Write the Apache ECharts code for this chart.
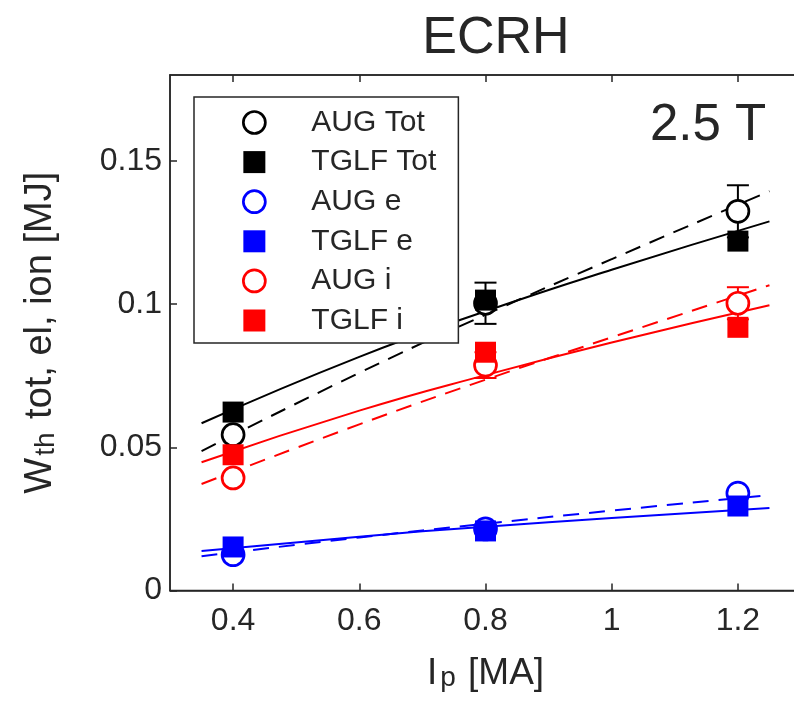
<!DOCTYPE html>
<html>
<head>
<meta charset="utf-8">
<script src="https://cdn.jsdelivr.net/npm/echarts@6/dist/echarts.min.js"></script>
<style>html,body{margin:0;padding:0;background:#fff}#c{width:794px;height:705px}</style>
</head>
<body>
<div id="c"></div>
<script>
// ---- data ----
const ipValues = [0.4, 0.8, 1.2];
const augTot  = [0.0544, 0.1003, 0.1324];
const tglfTot = [0.0623, 0.1014, 0.1220];
const augE    = [0.0125, 0.0215, 0.0340];
const tglfE   = [0.0152, 0.0208, 0.0295];
const augI    = [0.0393, 0.0787, 0.1003];
const tglfI   = [0.0474, 0.0832, 0.0919];
const augTotErr = [0, 0.0072, 0.0091];
const augIErr   = [0, 0.0045, 0.0056];

const fitX        = [0.35, 0.6, 0.8, 1.0, 1.25];
const fitAugTot   = [0.0487, 0.0760, 0.0963, 0.1157, 0.1394];
const fitTglfTot  = [0.0584, 0.0816, 0.0975, 0.1120, 0.1289];
const fitAugI     = [0.0372, 0.0580, 0.0736, 0.0884, 0.1066];
const fitTglfI    = [0.0448, 0.0628, 0.0752, 0.0866, 0.0996];
const fitAugE     = [0.0120, 0.0185, 0.0233, 0.0279, 0.0333];
const fitTglfE    = [0.0138, 0.0188, 0.0223, 0.0253, 0.0288];

const xTicks = [0.4, 0.6, 0.8, 1.0, 1.2];
const yTicks = [0, 0.05, 0.1, 0.15];

const BLACK = '#000000', BLUE = '#0000ff', RED = '#ff0000', AX = '#262626';
const FONT = 'Liberation Sans';

const pts = (xs, ys) => xs.map((x, i) => [x, ys[i]]);
const errs = (xs, ys, es) => xs.map((x, i) => [x, ys[i] - es[i], ys[i] + es[i]]).filter((d, i) => es[i] > 0);

function fitLine(name, ys, color, dashed) {
  return {
    name: name, type: 'line', data: pts(fitX, ys), smooth: true, showSymbol: false, silent: true, z: 2,
    lineStyle: { color: color, width: 2, type: dashed ? [16, 10] : 'solid' }
  };
}
function circles(name, ys, color) {
  return {
    name: name, type: 'scatter', data: pts(ipValues, ys), symbol: 'circle', symbolSize: 22, z: 4,
    itemStyle: { color: '#ffffff', borderColor: color, borderWidth: 2.7, opacity: 1 }
  };
}
function squares(name, ys, color) {
  return {
    name: name, type: 'scatter', data: pts(ipValues, ys), symbol: 'rect', symbolSize: 21, z: 5,
    itemStyle: { color: color, opacity: 1 }
  };
}
function errorBars(name, data, color) {
  return {
    name: name, type: 'custom', data: data, z: 3, silent: true,
    encode: { x: 0, y: [1, 2] },
    renderItem: function (params, api) {
      const x = api.value(0);
      const lo = api.coord([x, api.value(1)]);
      const hi = api.coord([x, api.value(2)]);
      const hw = 11;
      const st = { stroke: color, lineWidth: 2 };
      return { type: 'group', children: [
        { type: 'line', shape: { x1: lo[0], y1: lo[1], x2: hi[0], y2: hi[1] }, style: st },
        { type: 'line', shape: { x1: hi[0] - hw, y1: hi[1], x2: hi[0] + hw, y2: hi[1] }, style: st },
        { type: 'line', shape: { x1: lo[0] - hw, y1: lo[1], x2: lo[0] + hw, y2: lo[1] }, style: st }
      ]};
    }
  };
}

const chart = echarts.init(document.getElementById('c'), null, { renderer: 'canvas' });
const option = {
  backgroundColor: '#ffffff',
  animation: false,
  title: {
    text: 'ECRH', left: 491, top: 8, textAlign: 'center',
    textStyle: { fontFamily: FONT, fontSize: 52, fontWeight: 'normal', color: AX }
  },
  grid: { left: 170, right: -7, top: 75, bottom: 114.5, show: true, borderColor: AX, borderWidth: 1.5,
    backgroundColor: 'transparent', containLabel: false, outerBoundsMode: 'none' },
  legend: {
    left: 194, top: 97, orient: 'vertical',
    padding: [10.5, 22, 7.5, 48],
    itemWidth: 22, itemHeight: 22, itemGap: 9.6,
    borderColor: AX, borderWidth: 1.5, backgroundColor: '#ffffff', z: 10,
    selectedMode: false,
    textStyle: { fontFamily: FONT, fontSize: 30, lineHeight: 29, color: AX, padding: [0, 0, 0, 41] },
    data: [
      { name: 'AUG Tot', icon: 'circle', itemStyle: { color: '#ffffff', borderColor: BLACK, borderWidth: 2.7 } },
      { name: 'TGLF Tot', icon: 'rect', itemStyle: { color: BLACK } },
      { name: 'AUG e', icon: 'circle', itemStyle: { color: '#ffffff', borderColor: BLUE, borderWidth: 2.7 } },
      { name: 'TGLF e', icon: 'rect', itemStyle: { color: BLUE } },
      { name: 'AUG i', icon: 'circle', itemStyle: { color: '#ffffff', borderColor: RED, borderWidth: 2.7 } },
      { name: 'TGLF i', icon: 'rect', itemStyle: { color: RED } }
    ]
  },
  graphic: [{
    type: 'text', left: 650, top: 100, z: 20,
    style: { text: '2.5 T', fontFamily: FONT, fontSize: 51, fill: AX }
  }],
  xAxis: [{
    type: 'value', min: 0.3, max: 1.3, position: 'bottom',
    name: '{m|I}{s|p}{m| [MA]}', nameLocation: 'middle', nameGap: 52,
    nameTextStyle: { fontFamily: FONT, color: AX, rich: {
      m: { fontFamily: FONT, fontSize: 37, color: AX, verticalAlign: 'top', lineHeight: 37 },
      s: { fontFamily: FONT, fontSize: 28, color: AX, verticalAlign: 'bottom', lineHeight: 28, padding: [22, 2, 0, 3] }
    }},
    axisLine: { show: true, lineStyle: { color: AX, width: 1.5 } },
    axisTick: { show: true, inside: true, length: 7, customValues: xTicks, lineStyle: { color: AX, width: 1.5 } },
    axisLabel: { customValues: xTicks, fontFamily: FONT, fontSize: 32, color: AX, margin: 15,
      formatter: v => String(Math.round(v * 10) / 10) },
    splitLine: { show: false }
  }, {
    type: 'value', min: 0.3, max: 1.3, position: 'top',
    axisLine: { show: true, lineStyle: { color: AX, width: 1.5 } },
    axisTick: { show: true, inside: true, length: 7, customValues: xTicks, lineStyle: { color: AX, width: 1.5 } },
    axisLabel: { show: false }, splitLine: { show: false }
  }],
  yAxis: [{
    type: 'value', min: 0, max: 0.18,
    name: '{m|W}{s|th}{m| tot, el, ion [MJ]}', nameLocation: 'middle', nameGap: 110,
    nameTextStyle: { fontFamily: FONT, color: AX, rich: {
      m: { fontFamily: FONT, fontSize: 38, color: AX, verticalAlign: 'top', lineHeight: 38 },
      s: { fontFamily: FONT, fontSize: 28, color: AX, verticalAlign: 'bottom', lineHeight: 28, padding: [24, 3, 0, 2] }
    }},
    axisLine: { show: true, lineStyle: { color: AX, width: 1.5 } },
    axisTick: { show: true, inside: true, length: 7, customValues: yTicks, lineStyle: { color: AX, width: 1.5 } },
    axisLabel: { customValues: yTicks, fontFamily: FONT, fontSize: 32, color: AX, margin: 8,
      formatter: v => String(Math.round(v * 100) / 100) },
    splitLine: { show: false }
  }],
  series: [
    fitLine('fit AUG Tot', fitAugTot, BLACK, true),
    fitLine('fit TGLF Tot', fitTglfTot, BLACK, false),
    fitLine('fit AUG i', fitAugI, RED, true),
    fitLine('fit TGLF i', fitTglfI, RED, false),
    fitLine('fit AUG e', fitAugE, BLUE, true),
    fitLine('fit TGLF e', fitTglfE, BLUE, false),
    errorBars('err AUG Tot', errs(ipValues, augTot, augTotErr), BLACK),
    errorBars('err AUG i', errs(ipValues, augI, augIErr), RED),
    circles('AUG Tot', augTot, BLACK),
    squares('TGLF Tot', tglfTot, BLACK),
    circles('AUG e', augE, BLUE),
    squares('TGLF e', tglfE, BLUE),
    circles('AUG i', augI, RED),
    squares('TGLF i', tglfI, RED)
  ]
};
chart.setOption(option);
</script>
</body>
</html>
